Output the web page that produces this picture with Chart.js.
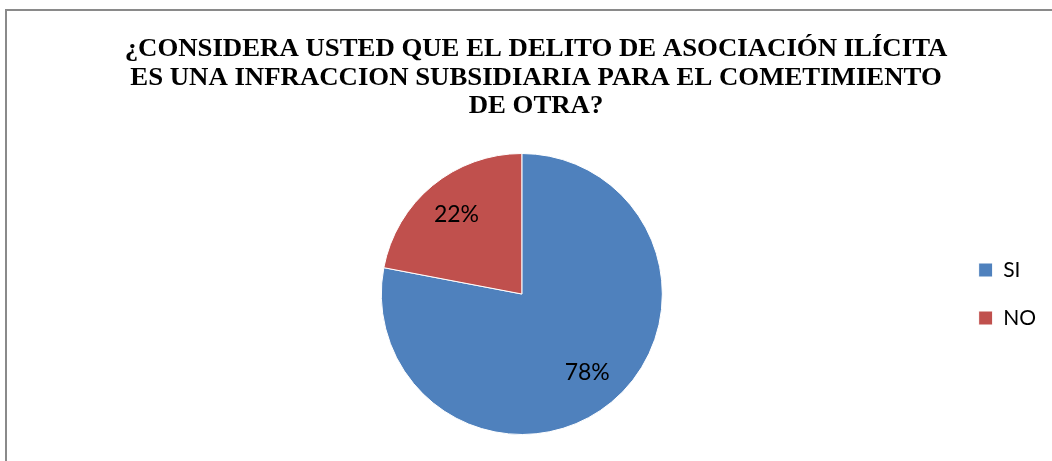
<!DOCTYPE html>
<html>
<head>
<meta charset="utf-8">
<script src="https://cdn.jsdelivr.net/npm/chart.js@4.4.0/dist/chart.umd.min.js"></script>
<style>
  body { margin: 0; background: #fff; overflow: hidden; width: 1052px; height: 461px; position: relative; }
  #frame { position: absolute; left: 5px; top: 9px; width: 1200px; height: 600px; border: 2px solid #8a8a8a; }
  #myChart { position: absolute; left: 6px; top: 11px; }
</style>
</head>
<body>
<div id="frame"></div>
<canvas id="myChart" width="1040" height="450"></canvas>
<script>
const titleLines = [
  "¿CONSIDERA USTED QUE EL DELITO DE ASOCIACIÓN ILÍCITA",
  "ES UNA INFRACCION SUBSIDIARIA PARA EL COMETIMIENTO",
  "DE OTRA?"
];
const categories = ["SI", "NO"];
const percentages = [78, 22];
const sliceColors = ["#4F81BD", "#C0504D"];

// title centred on the whole frame, not on the plot
const frameTitle = {
  id: "frameTitle",
  afterDraw(chart) {
    const ctx = chart.ctx;
    ctx.save();
    ctx.translate(530, 0);
    ctx.scale(1.03, 1);
    ctx.font = "bold 26px 'Liberation Serif', 'Times New Roman', serif";
    ctx.fillStyle = "#000";
    ctx.textAlign = "center";
    ctx.textBaseline = "alphabetic";
    titleLines.forEach((line, i) => ctx.fillText(line, 0, 45 + i * 28.5));
    ctx.restore();
  }
};

// percentage labels inside each slice
const sliceLabels = {
  id: "sliceLabels",
  afterDatasetsDraw(chart) {
    const ctx = chart.ctx;
    const meta = chart.getDatasetMeta(0);
    ctx.save();
    ctx.font = "23px Lato";
    ctx.fillStyle = "#000";
    ctx.textAlign = "center";
    ctx.textBaseline = "middle";
    meta.data.forEach((arc, i) => {
      const p = arc.getProps(["x", "y", "startAngle", "endAngle", "outerRadius"], true);
      const mid = (p.startAngle + p.endAngle) / 2;
      const r = p.outerRadius * 0.73;
      ctx.fillText(percentages[i] + "%", p.x + Math.cos(mid) * r, p.y + Math.sin(mid) * r);
    });
    ctx.restore();
  }
};

new Chart(document.getElementById("myChart"), {
  type: "pie",
  data: {
    labels: categories,
    datasets: [{
      data: percentages,
      backgroundColor: sliceColors,
      borderColor: "#ffffff",
      borderWidth: 1
    }]
  },
  options: {
    responsive: false,
    animation: false,
    layout: { padding: { left: 86, right: 0, top: 142, bottom: 26 } },
    plugins: {
      title: { display: false },
      legend: {
        position: "right",
        labels: {
          color: "#000",
          font: { family: "Lato", size: 21 },
          boxWidth: 14,
          boxHeight: 14,
          padding: 27
        }
      },
      tooltip: { enabled: false }
    }
  },
  plugins: [sliceLabels, frameTitle]
});
</script>
</body>
</html>
